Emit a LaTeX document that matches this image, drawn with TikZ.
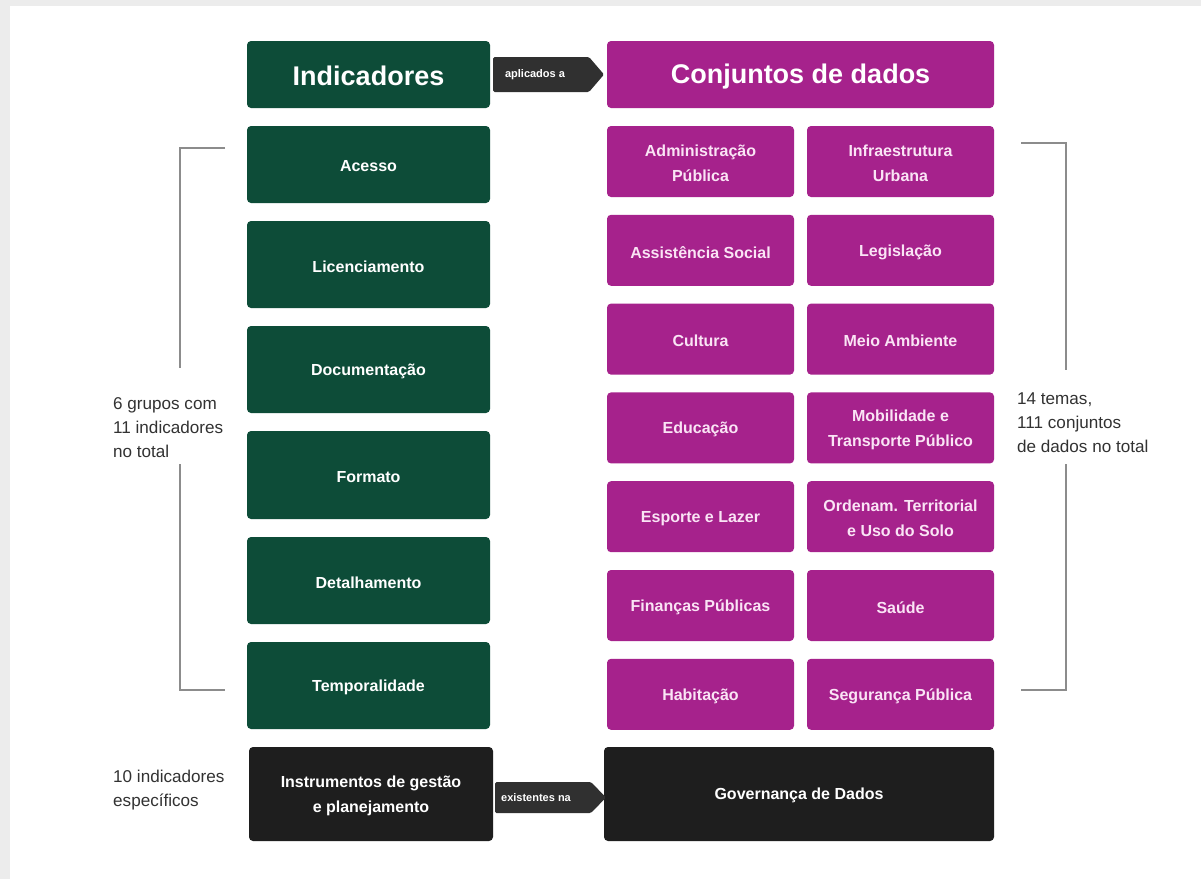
\documentclass[tikz,border=0pt]{standalone}
\usepackage{fontspec}
\setmainfont{Liberation Sans}
\definecolor{bggray}{RGB}{236,236,236}
\definecolor{dgreen}{RGB}{13,76,56}
\definecolor{magen}{RGB}{166,34,140}
\definecolor{mtext}{RGB}{250,228,245}
\definecolor{dblack}{RGB}{30,30,30}
\definecolor{darrow}{RGB}{48,48,48}
\definecolor{brk}{RGB}{140,140,140}
\definecolor{stext}{RGB}{50,50,50}
\tikzset{
  box/.style={inner sep=0pt, align=center, font=\bfseries\fontsize{16}{25}\selectfont},
  gbox/.style={box, text=white},
  mbox/.style={box, text=mtext},
  kbox/.style={box, text=white},
  hbox/.style={font=\bfseries\fontsize{27}{30}\selectfont},
  side/.style={align=left, anchor=west, inner sep=0pt, text=stext, font=\fontsize{17.1}{24}\selectfont},
  arrowlbl/.style={text=white, font=\bfseries\fontsize{11}{12}\selectfont, inner sep=0pt},
  brkline/.style={draw=brk, line width=2pt},
  tagarrow/.style={fill=darrow, rounded corners=1.5pt},
}
% #1 name, #2-#5 box corners, #6 fill colour, #7 node style, #8 text
\newcommand{\bx}[8]{%
  \fill[#6, rounded corners=4pt] (#2,#3) rectangle (#4,#5);%
  \pgfmathsetmacro{\cxx}{(#2+#4)/2}\pgfmathsetmacro{\cyy}{(#3+#5)/2+1.8}%
  \pgfmathsetmacro{\ww}{#4-#2}\pgfmathsetmacro{\hh}{#5-#3}%
  \node[#7, minimum width=\ww pt, minimum height=\hh pt] (#1) at (\cxx,\cyy) {#8};}
\begin{document}
\begin{tikzpicture}[x=1pt,y=-1pt]
\useasboundingbox (0,0) rectangle (1201,879);
\fill[bggray] (0,0) rectangle (1201,879);
\fill[white] (10,6) rectangle (1201,879);
% headers
\bx{ind}{247}{41}{490}{108}{dgreen}{gbox,hbox}{Indicadores}
\bx{conj}{607}{41}{994}{108}{magen}{mbox,hbox,text=white}{Conjuntos de dados}
% arrow aplicados a
\fill[tagarrow] (493,57) -- (589,57) -- (604,74.5) -- (589,92) -- (493,92) -- cycle;
\node[arrowlbl] (apl) at (535,74.5) {aplicados a};
% green boxes
\bx{acesso}{247}{126}{490}{203}{dgreen}{gbox}{Acesso}
\bx{lic}{247}{221}{490}{308}{dgreen}{gbox}{Licenciamento}
\bx{doc}{247}{326}{490}{413}{dgreen}{gbox}{Documentação}
\bx{form}{247}{431}{490}{519}{dgreen}{gbox}{Formato}
\bx{det}{247}{537}{490}{624}{dgreen}{gbox}{Detalhamento}
\bx{temp}{247}{642}{490}{729}{dgreen}{gbox}{Temporalidade}
% magenta boxes
\bx{m1}{607}{126}{794}{197}{magen}{mbox}{Administração\\Pública}
\bx{m2}{807}{126}{994}{197}{magen}{mbox}{Infraestrutura\\Urbana}
\bx{m3}{607}{214.8}{794}{285.8}{magen}{mbox}{Assistência Social}
\bx{m4}{807}{214.8}{994}{285.8}{magen}{mbox}{Legislação}
\bx{m5}{607}{303.6}{794}{374.6}{magen}{mbox}{Cultura}
\bx{m6}{807}{303.6}{994}{374.6}{magen}{mbox}{Meio Ambiente}
\bx{m7}{607}{392.4}{794}{463.4}{magen}{mbox}{Educação}
\bx{m8}{807}{392.4}{994}{463.4}{magen}{mbox}{Mobilidade e\\Transporte Público}
\bx{m9}{607}{481.2}{794}{552.2}{magen}{mbox}{Esporte e Lazer}
\bx{m10}{807}{481.2}{994}{552.2}{magen}{mbox}{Ordenam. Territorial\\e Uso do Solo}
\bx{m11}{607}{570}{794}{641}{magen}{mbox}{Finanças Públicas}
\bx{m12}{807}{570}{994}{641}{magen}{mbox}{Saúde}
\bx{m13}{607}{658.8}{794}{729.8}{magen}{mbox}{Habitação}
\bx{m14}{807}{658.8}{994}{729.8}{magen}{mbox}{Segurança Pública}
% bottom boxes
\bx{instr}{249}{747}{493}{841}{dblack}{kbox}{Instrumentos de gestão\\e planejamento}
\bx{gov}{604}{747}{994}{841}{dblack}{kbox}{Governança de Dados}
\fill[tagarrow] (495,782) -- (591,782) -- (606,797.5) -- (591,813) -- (495,813) -- cycle;
\node[arrowlbl] (exi) at (536,798) {existentes na};
% side texts
\node[side] (lt) at (113,428) {6 grupos com\\11 indicadores\\no total};
\node[side] (rt) at (1017,422.5) {14 temas,\\111 conjuntos\\de dados no total};
\node[side] (bt) at (113,790) {10 indicadores\\específicos};
% left bracket
\coordinate (la) at (225,148);
\coordinate (lb) at (180,148);
\coordinate (lc) at (180,368);
\coordinate (ld) at (180,464);
\coordinate (le) at (180,690);
\coordinate (lf) at (225,690);
\draw[brkline] (la) -- (lb) -- (lc);
\draw[brkline] (ld) -- (le) -- (lf);
% right bracket
\coordinate (ra) at (1021,143);
\coordinate (rb) at (1066,143);
\coordinate (rc) at (1066,370);
\coordinate (rd) at (1066,464);
\coordinate (re) at (1066,690);
\coordinate (rf) at (1021,690);
\draw[brkline] (ra) -- (rb) -- (rc);
\draw[brkline] (rd) -- (re) -- (rf);
\end{tikzpicture}
\end{document}
